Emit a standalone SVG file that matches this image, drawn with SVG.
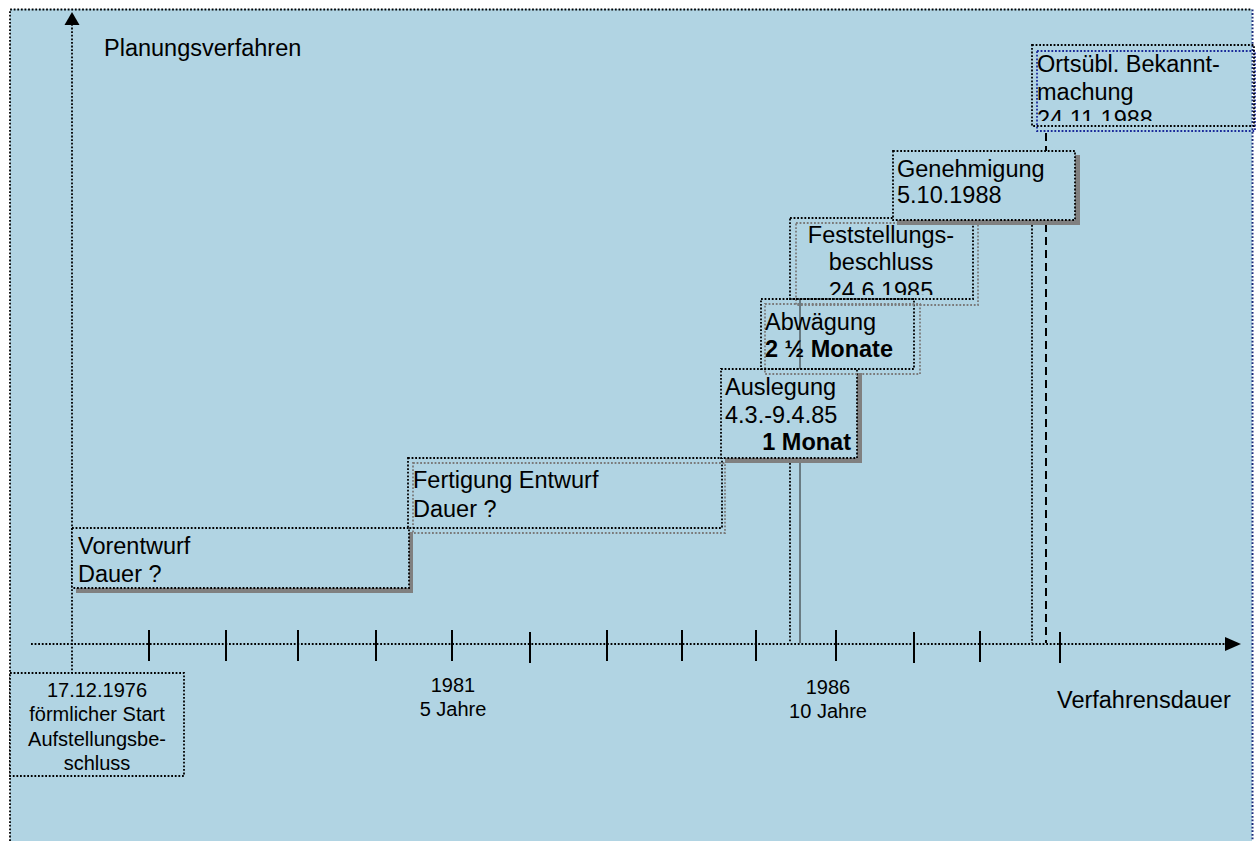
<svg xmlns="http://www.w3.org/2000/svg" width="1256" height="841" viewBox="0 0 1256 841">
  <style>
    text { font-family: "Liberation Sans", Arial, sans-serif; fill: #000; }
    .lbl { font-size: 23.5px; }
    .sm { font-size: 20px; }
    .b { font-weight: bold; }
    .mid { text-anchor: middle; }
    .end { text-anchor: end; }
    .box { fill: none; stroke: #000; stroke-width: 1.8; stroke-dasharray: 1.8 1.8; }
    .boxf { fill: #B1D4E3; stroke: #000; stroke-width: 1.8; stroke-dasharray: 1.8 1.8; }
    .ghost { fill: none; stroke: #7a7a7a; stroke-width: 1.8; stroke-dasharray: 1.8 1.8; }
    .ghostblue { fill: none; stroke: #1a2a9a; stroke-width: 1.8; stroke-dasharray: 1.8 1.8; }
    .shadow { fill: #808080; }
    .dot { fill: none; stroke: #000; stroke-width: 1.8; stroke-dasharray: 1.8 1.8; }
    .tick { stroke: #000; stroke-width: 2; }
  </style>
  <defs>
    <clipPath id="clipFest"><rect x="790" y="218" width="183" height="77"/></clipPath>
    <clipPath id="clipOrt"><rect x="1032" y="45" width="222" height="76"/></clipPath>
  </defs>

  <!-- sheet -->
  <rect x="0" y="0" width="1256" height="841" fill="#ffffff"/>
  <rect x="10" y="9" width="1242" height="840" fill="#B1D4E3"/>
  <path d="M10 841 V9.5 H1252" class="dot"/>
  <path d="M1252.5 9.5 V841" fill="none" stroke="#1a2a7a" stroke-width="2" stroke-dasharray="1.8 1.8"/>

  <!-- connectors: axes, ticks, date markers -->
  <g id="connectors">
    <!-- vertical axis -->
    <line x1="72" y1="24" x2="72" y2="673" class="dot"/>
    <polygon points="72,12 64.5,25 79.5,25" fill="#000"/>
    <!-- horizontal axis -->
    <line x1="31" y1="644" x2="1226" y2="644" class="dot"/>
    <polygon points="1241,644 1225,637 1225,651" fill="#000"/>
    <!-- ticks -->
    <g class="tick">
      <line x1="149" y1="630" x2="149" y2="661"/>
      <line x1="226" y1="630" x2="226" y2="661"/>
      <line x1="298" y1="630" x2="298" y2="661"/>
      <line x1="376" y1="630" x2="376" y2="661"/>
      <line x1="452" y1="630" x2="452" y2="661"/>
      <line x1="530" y1="632" x2="530" y2="663"/>
      <line x1="607" y1="630" x2="607" y2="661"/>
      <line x1="682" y1="630" x2="682" y2="661"/>
      <line x1="756" y1="630" x2="756" y2="661"/>
      <line x1="836" y1="630" x2="836" y2="661"/>
      <line x1="914" y1="632" x2="914" y2="663"/>
      <line x1="980" y1="631" x2="980" y2="662"/>
      <line x1="1060" y1="632" x2="1060" y2="663"/>
    </g>
    <!-- date markers down to the axis -->
    <line x1="800" y1="299" x2="800" y2="643" stroke="#222" stroke-width="1"/>
    <line x1="790" y1="463" x2="790" y2="643" class="dot"/>
    <line x1="1032" y1="225" x2="1032" y2="643" class="dot"/>
    <line x1="1046" y1="133" x2="1046" y2="643" stroke="#000" stroke-width="2" stroke-dasharray="8 5"/>
  </g>

  <!-- axis captions -->
  <g id="axis-labels">
    <text x="104" y="56" class="lbl">Planungsverfahren</text>
    <text x="1057" y="708" class="lbl">Verfahrensdauer</text>
    <text x="453" y="692" class="sm mid">1981</text>
    <text x="453" y="716" class="sm mid">5 Jahre</text>
    <text x="828" y="694" class="sm mid">1986</text>
    <text x="828" y="718" class="sm mid">10 Jahre</text>
  </g>

  <!-- start -->
  <g id="start">
    <rect x="10" y="673" width="174" height="103" class="boxf"/>
    <text x="97" y="697" class="sm mid">17.12.1976</text>
    <text x="97" y="721" class="sm mid">förmlicher Start</text>
    <text x="97" y="746" class="sm mid">Aufstellungsbe-</text>
    <text x="97" y="770" class="sm mid">schluss</text>
  </g>

  <!-- Vorentwurf -->
  <g id="vorentwurf">
    <rect x="76" y="532" width="337" height="61" class="shadow"/>
    <rect x="72" y="528" width="337" height="60" class="boxf"/>
    <text x="78" y="554" class="lbl">Vorentwurf</text>
    <text x="78" y="582" class="lbl">Dauer ?</text>
  </g>

  <!-- Fertigung Entwurf -->
  <g id="fertigung">
    <rect x="413" y="463" width="312" height="70" class="ghost"/>
    <rect x="408" y="458" width="314" height="70" class="box"/>
    <text x="413" y="488" class="lbl">Fertigung Entwurf</text>
    <text x="413" y="517" class="lbl">Dauer ?</text>
  </g>

  <!-- Auslegung -->
  <g id="auslegung">
    <rect x="725" y="373" width="137" height="90" class="shadow"/>
    <rect x="721" y="369" width="136" height="89" class="boxf"/>
    <text x="725" y="395" class="lbl">Auslegung</text>
    <text x="725" y="423" class="lbl">4.3.-9.4.85</text>
    <text x="851" y="450" class="lbl b end">1 Monat</text>
  </g>

  <!-- Abwägung -->
  <g id="abwaegung">
    <rect x="765" y="304" width="155" height="70" class="ghost"/>
    <rect x="761" y="299" width="153" height="70" class="box"/>
    <text x="765" y="330" class="lbl">Abwägung</text>
    <text x="765" y="357" class="lbl b">2 ½ Monate</text>
  </g>

  <!-- Feststellungsbeschluss -->
  <g id="feststellung">
    <rect x="796" y="223" width="182" height="82" class="ghost"/>
    <rect x="790" y="218" width="183" height="81" class="box"/>
    <g clip-path="url(#clipFest)">
      <text x="881" y="243" class="lbl mid">Feststellungs-</text>
      <text x="881" y="270" class="lbl mid">beschluss</text>
      <text x="881" y="299" class="lbl mid">24.6.1985</text>
    </g>
  </g>

  <!-- Genehmigung -->
  <g id="genehmigung">
    <rect x="897" y="155" width="183" height="70" class="shadow"/>
    <rect x="893" y="151" width="182" height="69" class="boxf"/>
    <text x="897" y="177" class="lbl">Genehmigung</text>
    <text x="897" y="203" class="lbl">5.10.1988</text>
  </g>

  <!-- Ortsübliche Bekanntmachung -->
  <g id="bekanntmachung">
    <rect x="1037" y="51" width="218" height="80" class="ghostblue"/>
    <rect x="1032" y="45" width="222" height="81" class="box"/>
    <g clip-path="url(#clipOrt)">
      <text x="1037" y="72" class="lbl">Ortsübl. Bekannt-</text>
      <text x="1037" y="100" class="lbl">machung</text>
      <text x="1037" y="127" class="lbl">24.11.1988</text>
    </g>
  </g>
</svg>
